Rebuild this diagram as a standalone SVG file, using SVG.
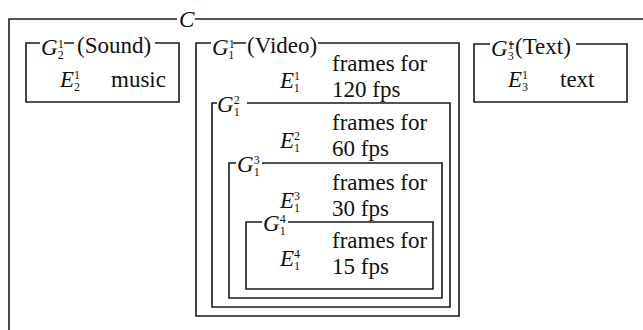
<svg xmlns="http://www.w3.org/2000/svg" width="643" height="330" viewBox="0 0 643 330" font-family="Liberation Serif, DejaVu Serif, serif">
<style>
.b{fill:none;stroke:#1a1a1a;stroke-width:1.6}
text{font-family:'Liberation Serif','DejaVu Serif',serif;fill:#111;font-size:23px}
.i{font-style:italic}
.s{font-size:12px;font-style:normal}
</style>
<rect width="643" height="330" fill="#fff"/>
<g id="C">
<path class="b" d="M177,19 H9 V330 M195,19 H643"/>
<text class="i" x="179" y="27">C</text>
</g>
<g id="sound">
<path class="b" d="M40,43 H26 V102 H179 V43 H155 M64,43 H74"/>
<text class="i" x="41" y="55">G<tspan class="s" dy="-7">1</tspan><tspan class="s" dx="-6" dy="11">2</tspan></text>
<text x="77" y="53">(Sound)</text>
<text class="i" x="60" y="87">E<tspan class="s" dy="-8">1</tspan><tspan class="s" dx="-6" dy="12">2</tspan></text>
<text x="111" y="87">music</text>
</g>
<g id="video">
<path class="b" d="M211,43 H196 V316 H459 V43 H318 M233,43 H246"/>
<text class="i" x="212" y="55">G<tspan class="s" dy="-7">1</tspan><tspan class="s" dx="-6" dy="11">1</tspan></text>
<text x="247" y="53">(Video)</text>
<text class="i" x="280" y="88">E<tspan class="s" dy="-8">1</tspan><tspan class="s" dx="-6" dy="12">1</tspan></text>
<text x="332" y="71">frames for</text>
<text x="332" y="97">120 fps</text>
</g>
<g id="G12">
<path class="b" d="M217,103 H212 V307 H450 V103 H247"/>
<text class="i" x="217" y="112">G<tspan class="s" dy="-8">2</tspan><tspan class="s" dx="-6" dy="12">1</tspan></text>
<text class="i" x="280" y="148">E<tspan class="s" dy="-8">2</tspan><tspan class="s" dx="-6" dy="12">1</tspan></text>
<text x="332" y="130">frames for</text>
<text x="332" y="156">60 fps</text>
</g>
<g id="G13">
<path class="b" d="M236,163 H229 V298 H442 V163 H262"/>
<text class="i" x="237" y="172">G<tspan class="s" dy="-8">3</tspan><tspan class="s" dx="-6" dy="12">1</tspan></text>
<text class="i" x="280" y="208">E<tspan class="s" dy="-8">3</tspan><tspan class="s" dx="-6" dy="12">1</tspan></text>
<text x="332" y="190">frames for</text>
<text x="332" y="216">30 fps</text>
</g>
<g id="G14">
<path class="b" d="M262,222 H246 V289 H433 V222 H288"/>
<text class="i" x="263" y="231">G<tspan class="s" dy="-8">4</tspan><tspan class="s" dx="-6" dy="12">1</tspan></text>
<text class="i" x="280" y="266">E<tspan class="s" dy="-8">4</tspan><tspan class="s" dx="-6" dy="12">1</tspan></text>
<text x="332" y="248">frames for</text>
<text x="332" y="274">15 fps</text>
</g>
<g id="text">
<path class="b" d="M490,44 H474 V102 H627 V44 H576 M509,44 H514"/>
<text class="i" x="491" y="56">G<tspan class="s" dy="-7">1</tspan><tspan class="s" dx="-6" dy="11">3</tspan></text>
<text x="515" y="54">(Text)</text>
<text class="i" x="508" y="87">E<tspan class="s" dy="-8">1</tspan><tspan class="s" dx="-6" dy="12">3</tspan></text>
<text x="560" y="87">text</text>
</g>
</svg>
